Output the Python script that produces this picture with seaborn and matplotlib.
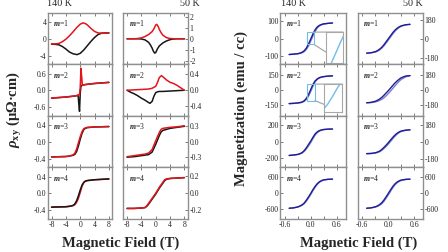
import matplotlib
matplotlib.use("Agg")
import matplotlib.pyplot as plt
import seaborn as sns

sns.set_style("ticks")
plt.rcParams['font.family'] = ['Liberation Serif', 'DejaVu Serif']
plt.rcParams['mathtext.fontset'] = 'custom'
plt.rcParams['mathtext.it'] = 'Liberation Serif:italic:bold'
plt.rcParams['mathtext.rm'] = 'Liberation Serif:bold'
plt.rcParams['mathtext.bf'] = 'Liberation Serif:bold'
plt.rcParams['axes.unicode_minus'] = False

# ---------------- transport (rho_xy) data, field in T ----------------
h_r1a = [-8, -7, -6, -5, -4, -3, -2, -1, 0, 0.8, 1.5, 2, 3, 4, 5, 6, 7, 8]
red_1a = [-1.2, -1.2, -1.1, -0.7, -0.1, 0.7, 1.6, 2.6, 3.4, 3.7, 3.5, 3.2, 2.4, 1.7, 1.35, 1.3, 1.3, 1.35]
h_k1a = [-8, -7, -6, -5, -4, -3, -2, -0.9, 0, 1, 2, 3, 4, 5, 6, 7, 8]
blk_1a = [-1.25, -1.3, -1.4, -1.8, -2.4, -3.1, -3.5, -3.7, -3.4, -2.6, -1.6, -0.6, 0.3, 1.0, 1.3, 1.35, 1.35]

h_r1b = [-8, -6, -5, -4, -3, -2, -1, -0.5, 0, 0.3, 0.7, 1, 1.5, 2, 3, 4, 5, 6, 8]
red_1b = [0, 0, 0.02, 0.08, 0.2, 0.38, 0.65, 0.9, 1.25, 1.3, 1.1, 0.85, 0.55, 0.32, 0.1, 0.02, 0, 0, 0]
h_k1b = [-8, -6, -5, -4, -3, -2, -1.5, -1, -0.7, -0.3, 0, 0.5, 1, 2, 3, 4, 5, 6, 8]
blk_1b = [0, 0, 0, -0.02, -0.1, -0.32, -0.55, -0.85, -1.1, -1.3, -1.25, -0.9, -0.65, -0.38, -0.2, -0.08, -0.02, 0, 0]

h_r2a = [-8, -6, -4, -2, -1, -0.5, -0.2, 0, 0.2, 0.4, 0.6, 1, 2, 4, 6, 8]
red_2a = [-0.29, -0.27, -0.25, -0.22, -0.2, -0.18, -0.15, 0.1, 0.81, 0.5, 0.18, 0.2, 0.22, 0.25, 0.27, 0.29]
h_k2a = [-8, -6, -4, -2, -1, -0.6, -0.4, -0.2, 0, 0.2, 0.5, 1, 2, 4, 6, 8]
blk_2a = [-0.29, -0.27, -0.25, -0.22, -0.2, -0.18, -0.5, -0.78, -0.1, 0.15, 0.18, 0.2, 0.22, 0.25, 0.27, 0.29]

h_r2b = [-8, -6, -4, -2, -1, 0, 0.5, 1, 1.6, 2, 3, 4, 5, 6, 7, 8]
red_2b = [0, 0.01, 0.02, 0.03, 0.05, 0.1, 0.2, 0.32, 0.37, 0.34, 0.26, 0.2, 0.17, 0.12, 0.06, 0.0]
h_k2b = [-8, -7, -6, -5, -4, -3, -2, -1.6, -1, -0.5, 0, 0.5, 1, 2, 4, 6, 8]
blk_2b = [0, -0.05, -0.09, -0.14, -0.2, -0.25, -0.31, -0.33, -0.28, -0.15, -0.06, -0.04, -0.03, -0.03, -0.02, -0.01, 0]

h_3 = [-8, -6, -4, -3, -2, -1.5, -1, -0.5, 0, 0.5, 1, 1.5, 2, 4, 6, 8]
red_3a = [-0.36, -0.355, -0.35, -0.34, -0.31, -0.27, -0.17, -0.02, 0.12, 0.24, 0.31, 0.33, 0.34, 0.35, 0.355, 0.36]
blk_3a = [-0.36, -0.355, -0.35, -0.34, -0.32, -0.3, -0.23, -0.1, 0.06, 0.2, 0.29, 0.32, 0.335, 0.35, 0.355, 0.36]

h_3b = [-8, -6, -4, -3, -2, -1, 0, 1, 1.5, 2, 3, 4, 6, 8]
red_3b = [-0.29, -0.27, -0.25, -0.24, -0.22, -0.15, 0.02, 0.18, 0.24, 0.26, 0.27, 0.28, 0.29, 0.31]
blk_3b = [-0.3, -0.29, -0.27, -0.26, -0.25, -0.2, -0.05, 0.12, 0.19, 0.22, 0.24, 0.26, 0.28, 0.3]

h_4 = [-8, -6, -4, -3, -2, -1.5, -1, -0.5, 0, 0.5, 1, 1.5, 2, 3, 4, 6, 8]
blk_4a = [-0.34, -0.335, -0.33, -0.32, -0.3, -0.26, -0.18, -0.06, 0.08, 0.2, 0.27, 0.3, 0.31, 0.32, 0.33, 0.34, 0.35]
red_4a = [-0.34, -0.335, -0.33, -0.32, -0.3, -0.28, -0.22, -0.12, 0.02, 0.17, 0.26, 0.3, 0.31, 0.32, 0.33, 0.34, 0.35]

h_4b = [-8, -6, -4, -3, -2.5, -2, -1, 0, 1, 2, 2.5, 3, 4, 6, 8]
blk_4b = [-0.18, -0.18, -0.175, -0.17, -0.155, -0.13, -0.07, -0.01, 0.06, 0.12, 0.15, 0.165, 0.175, 0.18, 0.185]
red_4b = [-0.18, -0.18, -0.175, -0.17, -0.15, -0.12, -0.06, 0.0, 0.07, 0.13, 0.16, 0.17, 0.175, 0.18, 0.185]

# ---------------- magnetization data, field in T ----------------
b = [-0.5, -0.4, -0.3, -0.25, -0.2, -0.15, -0.1, -0.05, 0, 0.05, 0.1, 0.15, 0.2, 0.25, 0.3, 0.4, 0.5]
dk_1a = [-90, -88, -85, -82, -77, -68, -52, -28, 0, 28, 52, 68, 77, 82, 85, 88, 90]
lt_1a = [-90, -88, -86, -84, -80, -73, -60, -40, -12, 16, 42, 62, 73, 80, 84, 88, 90]
dk_1b = [-136, -132, -122, -112, -98, -80, -56, -28, 0, 28, 56, 80, 98, 112, 122, 132, 136]
lt_1b = [-136, -133, -126, -118, -105, -88, -66, -40, -12, 16, 44, 70, 90, 106, 118, 131, 136]
dk_2a = [-135, -132, -128, -124, -118, -105, -80, -40, 10, 60, 95, 115, 128, 134, 138, 143, 145]
lt_2a = [-135, -133, -130, -127, -122, -112, -92, -58, -10, 42, 85, 110, 124, 132, 137, 143, 145]
dk_2b = [-150, -145, -132, -120, -105, -85, -60, -32, -5, 25, 55, 85, 110, 132, 150, 170, 175]
lt_2b = [-150, -148, -140, -132, -122, -108, -90, -66, -40, -10, 20, 50, 80, 108, 130, 160, 175]
dk_3a = [-165, -160, -152, -143, -130, -105, -70, -30, 10, 55, 95, 120, 135, 143, 148, 152, 153]
lt_3a = [-165, -161, -154, -147, -136, -115, -85, -48, -8, 38, 80, 110, 128, 139, 146, 151, 153]
dk_3b = [-127, -125, -118, -110, -100, -82, -60, -36, -10, 18, 45, 70, 90, 105, 115, 124, 127]
lt_3b = [-127, -126, -121, -115, -107, -92, -72, -50, -25, 3, 30, 57, 80, 97, 110, 122, 127]
dk_4a = [-560, -545, -510, -475, -430, -360, -250, -130, 0, 140, 260, 360, 430, 475, 500, 520, 525]
lt_4a = [-560, -547, -515, -485, -445, -385, -290, -170, -40, 100, 225, 330, 410, 460, 492, 518, 525]
dk_4b = [-560, -545, -505, -470, -420, -350, -250, -130, -5, 125, 245, 345, 415, 462, 492, 518, 525]
lt_4b = [-560, -548, -518, -490, -450, -390, -300, -185, -60, 70, 195, 305, 385, 440, 478, 512, 525]

# tick values / labels
field_ticks_t = [-8, -4, 0, 4, 8]
field_labels_t = ['-8', '-4', '0', '4', '8']
field_ticks_m = [-0.6, -0.3, 0.0, 0.3, 0.6]
field_labels_m = ['-0.6', '', '0.0', '', '0.6']

RED = '#e3151b'
BLK = '#161616'
DARK = '#1e1e8e'
LIGHT = '#7c7cd4'
SKY = '#6fbde8'
GREY = '#8f8f8f'

fig = plt.figure(figsize=(4.48, 2.52), dpi=100)
gs_l = fig.add_gridspec(4, 2, left=0.1071, right=0.4196, top=0.9484, bottom=0.131,
                        hspace=0, wspace=0.17)
gs_r = fig.add_gridspec(4, 2, left=0.6261, right=0.9442, top=0.9484, bottom=0.131,
                        hspace=0, wspace=0.192)

transport = [
    # (row, col, red, black, ylim, yticks, ylabels, black_on_top)
    (0, 0, (h_r1a, red_1a), (h_k1a, blk_1a), 6.0, [-4, 0, 4], ['-4', '0', '4'], False),
    (0, 1, (h_r1b, red_1b), (h_k1b, blk_1b), 2.33, [-2, -1, 0, 1, 2], ['-2', '-1', '0', '1', '2'], False),
    (1, 0, (h_r2a, red_2a), (h_k2a, blk_2a), 0.95, [-0.6, 0, 0.6], ['-0.6', '0.0', '0.6'], False),
    (1, 1, (h_r2b, red_2b), (h_k2b, blk_2b), 0.65, [-0.4, 0, 0.4], ['-0.4', '0.0', '0.4'], False),
    (2, 0, (h_3, red_3a), (h_3, blk_3a), 0.61, [-0.4, 0, 0.4], ['-0.4', '0.0', '0.4'], False),
    (2, 1, (h_3b, red_3b), (h_3b, blk_3b), 0.5, [-0.3, 0, 0.3], ['-0.3', '0.0', '0.3'], False),
    (3, 0, (h_4, red_4a), (h_4, blk_4a), 0.63, [-0.4, 0, 0.4], ['-0.4', '0.0', '0.4'], True),
    (3, 1, (h_4b, red_4b), (h_4b, blk_4b), 0.305, [-0.2, 0, 0.2], ['-0.2', '0.0', '0.2'], False),
]

magnet = [
    (0, 0, dk_1a, lt_1a, 147, [-100, 0, 100], ['-100', '0', '100']),
    (0, 1, dk_1b, lt_1b, 243, [-180, 0, 180], ['-180', '0', '180']),
    (1, 0, dk_2a, lt_2a, 260, [-150, 0, 150], ['-150', '0', '150']),
    (1, 1, dk_2b, lt_2b, 308, [-180, 0, 180], ['-180', '0', '180']),
    (2, 0, dk_3a, lt_3a, 310, [-200, 0, 200], ['-200', '0', '200']),
    (2, 1, dk_3b, lt_3b, 275, [-180, 0, 180], ['-180', '0', '180']),
    (3, 0, dk_4a, lt_4a, 960, [-600, 0, 600], ['-600', '0', '600']),
    (3, 1, dk_4b, lt_4b, 960, [-600, 0, 600], ['-600', '0', '600']),
]

# inset boxes for the 140 K magnetization panels: (row, zoom xlim, zoom ylim, bounds)
insets = [
    (0, (-0.085, 0.07), (-32, 38), [0.70, 0.03, 0.26, 0.60]),
    (1, (-0.085, 0.095), (-104, 62), [0.67, 0.075, 0.28, 0.545]),
]


def style(ax, row, col):
    for s in ax.spines.values():
        s.set_color(GREY)
        s.set_linewidth(1.0)
    ax.tick_params(direction='in', length=2.2, width=0.6, color='#666666',
                   labelsize=5.6, pad=1.2, top=True, bottom=True)
    if col == 1:
        ax.yaxis.tick_right()
        ax.tick_params(axis='y', direction='in', length=2.2, labelsize=5.6, pad=1.2)
    if row < 3:
        ax.tick_params(labelbottom=False)
    ax.set_xlabel('')
    ax.set_ylabel('')


for row, col, (hr, vr), (hk, vk), lim, yt, yl, blk_top in transport:
    ax = fig.add_subplot(gs_l[row, col])
    order = [((hr, vr), RED), ((hk, vk), BLK)] if blk_top else [((hk, vk), BLK), ((hr, vr), RED)]
    for (hx, vy), c in order:
        sns.lineplot(x=hx, y=vy, ax=ax, color=c, lw=1.1, sort=False, estimator=None)
    ax.set_xlim(-9, 9)
    ax.set_ylim(-lim, lim)
    ax.set_xticks(field_ticks_t)
    ax.set_xticklabels(field_labels_t)
    ax.set_yticks(yt)
    ax.set_yticklabels(yl)
    style(ax, row, col)
    ax.text(0.08, 0.9, '$m$=%d' % (row + 1), transform=ax.transAxes, fontsize=5.6,
            ha='left', va='top')

for row, col, dk, lt, lim, yt, yl in magnet:
    ax = fig.add_subplot(gs_r[row, col])
    sns.lineplot(x=b, y=lt, ax=ax, color=LIGHT, lw=1.0, sort=False, estimator=None)
    sns.lineplot(x=b, y=dk, ax=ax, color=DARK, lw=1.0, sort=False, estimator=None)
    ax.set_xlim(-0.7, 0.8)
    ax.set_ylim(-lim, lim)
    ax.set_xticks(field_ticks_m)
    ax.set_xticklabels(field_labels_m)
    ax.set_yticks(yt)
    ax.set_yticklabels(yl)
    style(ax, row, col)
    ax.text(0.08, 0.9, '$m$=%d' % (row + 1), transform=ax.transAxes, fontsize=5.6,
            ha='left', va='top')
    for irow, zx, zy, bounds in insets:
        if irow == row and col == 0:
            ins = ax.inset_axes(bounds)
            sns.lineplot(x=b, y=lt, ax=ins, color=SKY, lw=1.0, sort=False, estimator=None)
            ins.set_xlim(*zx)
            ins.set_ylim(*zy)
            ins.set_xticks([])
            ins.set_yticks([])
            ins.set_xlabel('')
            ins.set_ylabel('')
            for s in ins.spines.values():
                s.set_color('#a8a8a8')
                s.set_linewidth(0.8)
            ind = ax.indicate_inset_zoom(ins, edgecolor='#a0a0a0', linewidth=0.8, alpha=1)
            ind.rectangle.set_edgecolor(SKY)

fig.text(0.105, 0.986, '140 K', ha='left', va='center', fontsize=7.3)
fig.text(0.446, 0.986, '50 K', ha='right', va='center', fontsize=7.3)
fig.text(0.627, 0.986, '140 K', ha='left', va='center', fontsize=7.3)
fig.text(0.944, 0.986, '50 K', ha='right', va='center', fontsize=7.3)

fig.text(15 / 448, 1 - 110 / 252, r'$\rho_{\rm xy}$ (μΩ·cm)', rotation=90, ha='center',
         va='center', fontsize=10.5, fontweight='bold')
fig.text(241 / 448, 1 - 108 / 252, 'Magnetization (emu / cc)', rotation=90, ha='center',
         va='center', fontsize=10.5, fontweight='bold')
fig.text(120.5 / 448, 1 - 243 / 252, 'Magnetic Field (T)', ha='center', va='center',
         fontsize=10.5, fontweight='bold')
fig.text(358.5 / 448, 1 - 243 / 252, 'Magnetic Field (T)', ha='center', va='center',
         fontsize=10.5, fontweight='bold')

fig.savefig('out.png', dpi=100)
